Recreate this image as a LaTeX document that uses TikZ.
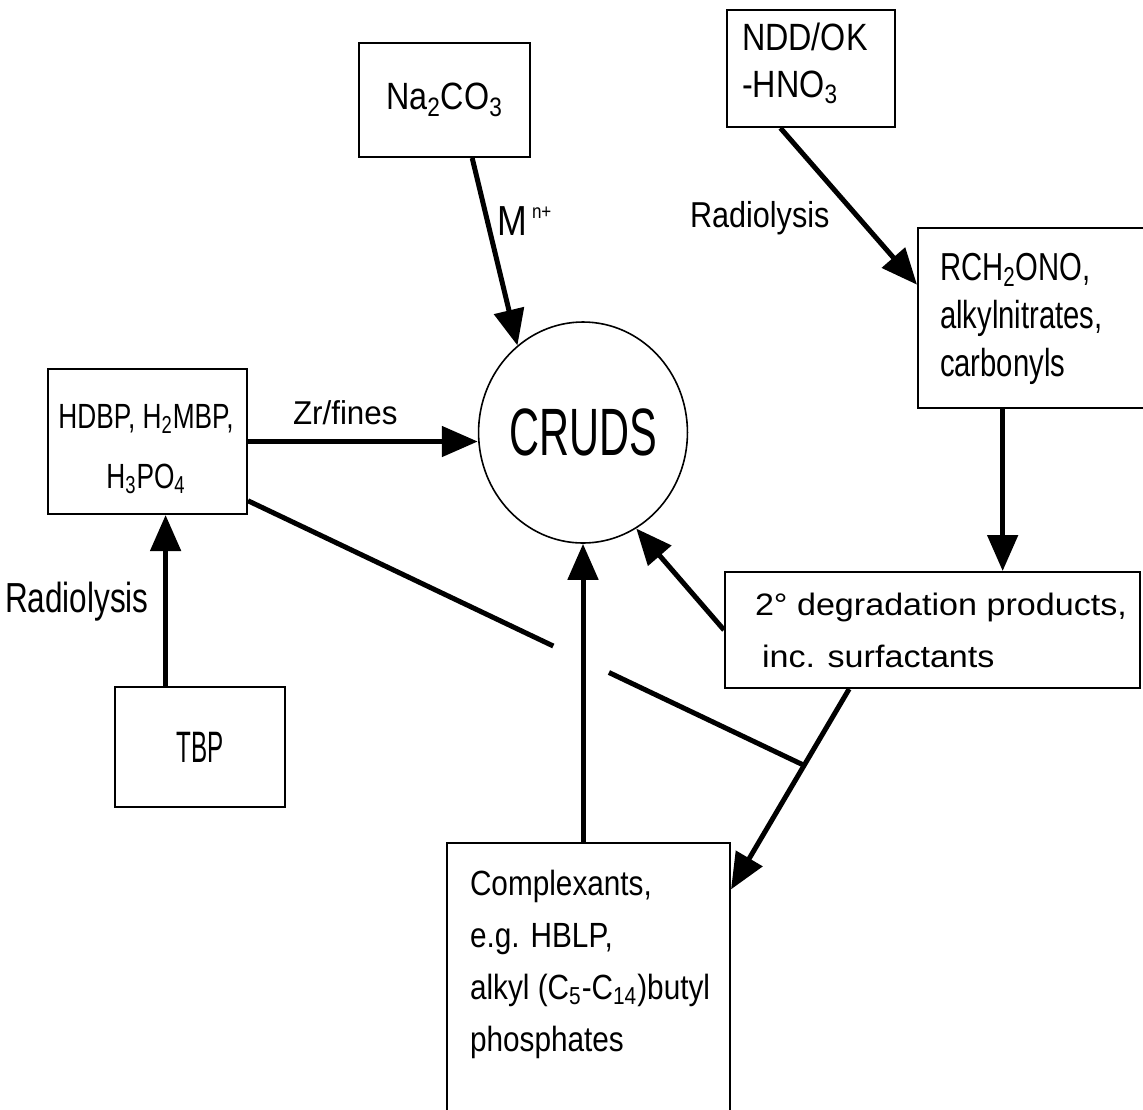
\documentclass[tikz,border=0pt]{standalone}
\usepackage{fontspec}
\setmainfont{Liberation Sans}
\newfontfamily\fA[FakeStretch=0.62]{Liberation Sans}
\newfontfamily\fT[FakeStretch=0.55]{Liberation Sans}
\newfontfamily\fB[FakeStretch=0.75]{Liberation Sans}
\newfontfamily\fC[FakeStretch=0.85]{Liberation Sans}
\newfontfamily\fD[FakeStretch=0.95]{Liberation Sans}
\newfontfamily\fE[FakeStretch=1.1]{Liberation Sans}
\usetikzlibrary{arrows.meta,shapes.geometric,calc}
\tikzset{
  boxnode/.style={draw, line width=1pt, rectangle, inner sep=0pt},
  arr/.style={line width=2.5pt, -{Triangle[length=18pt,width=15pt]}},
  plainline/.style={line width=2.5pt},
  txt/.style={inner sep=0pt, outer sep=0pt}
}
\begin{document}
\begin{tikzpicture}[x=0.5pt,y=-0.5pt]
\useasboundingbox (0,0) rectangle (1143,1109);
\clip (0,0) rectangle (1143,1109);
% boxes
\node[boxnode, minimum width=85.5pt, minimum height=57pt, font=\fC\fontsize{19}{23}\selectfont] (na) at (444.5,100) {Na\textsubscript{2}CO\textsubscript{3}};
\node[boxnode, minimum width=84pt, minimum height=58.5pt] (ndd) at (811,68.5) {};
\node[boxnode, minimum width=121pt, minimum height=90pt] (rch) at (1039,318) {};
\node[boxnode, minimum width=207.5pt, minimum height=58pt] (deg) at (932.5,630) {};
\node[boxnode, minimum width=99.5pt, minimum height=72.5pt] (hdbp) at (147.5,441.5) {};
\node[boxnode, minimum width=85pt, minimum height=60pt, font=\fT\fontsize{22}{26}\selectfont] (tbp) at (200,747) {TBP};
\node[boxnode, minimum width=141.5pt, minimum height=143.5pt] (comp) at (588.5,986.5) {};
\node[draw, line width=0.8pt, ellipse, inner sep=0pt, minimum width=95pt, minimum height=110.5pt, font=\fA\fontsize{33.5}{40}\selectfont] (cruds) at (583,432.5) {CRUDS};

% box texts (anchor base = baseline of the last line)
\node[txt, anchor=base west, align=left, font=\fC\fontsize{19}{23.5}\selectfont] (nddtxt) at (742,97) {NDD/OK\\-HNO\textsubscript{3}};
\node[txt, anchor=base west, align=left, font=\fB\fontsize{19.5}{24}\selectfont] (rchtxt) at (940,376) {RCH\textsubscript{2}ONO,\\alkylnitrates,\\carbonyls};
\node[txt, anchor=base, align=center, font=\fB\fontsize{17.5}{30}\selectfont] (hdbptxt) at (146,488) {HDBP, H\textsubscript{2}MBP,\\H\textsubscript{3}PO\textsubscript{4}};
\node[txt, anchor=base west, align=left, font=\fE\fontsize{15.5}{26}\selectfont] (degtxt) at (755,667) {2° degradation products,\\\hspace{3.5pt}inc. surfactants};
\node[txt, anchor=base west, align=left, font=\fC\fontsize{17.5}{26}\selectfont] (comptxt) at (470,1051) {Complexants,\\e.g. HBLP,\\alkyl (C\textsubscript{5}-C\textsubscript{14})butyl\\phosphates};

% labels
\node[txt, anchor=base west, font=\fB\fontsize{21}{25}\selectfont] (radL) at (5,612) {Radiolysis};
\node[txt, anchor=base west, font=\fC\fontsize{18}{22}\selectfont] (radR) at (690,227) {Radiolysis};
\node[txt, anchor=base west, font=\fD\fontsize{16.5}{20}\selectfont] (zr) at (293,424) {Zr/fines};
\node[txt, anchor=base west, font=\fC\fontsize{21}{25}\selectfont] (mlab) at (497,235) {M};
\node[txt, anchor=base west, font=\fC\fontsize{10}{12}\selectfont] (nlab) at (532,218) {n+};

% connectors
\draw[arr] ($(na.south west)!0.66!(na.south east)$) -- (cruds.127);
\draw[arr] ($(ndd.south west)!0.32!(ndd.south east)$) -- ($(rch.north west)!0.317!(rch.south west)$);
\coordinate (rchout) at ($(rch.south west)!0.351!(rch.south east)$);
\draw[arr] (rchout) -- (rchout |- deg.north);
\draw[arr] (deg.west) -- (cruds.-61);
\coordinate (degout) at ($(deg.south west)!0.30!(deg.south east)$);
\coordinate (compin) at ($(comp.north east)!0.164!(comp.south east)$);
\draw[arr] (degout) -- (compin);
\coordinate (jn) at ($(degout)!0.381!(compin)$);
\coordinate (hout) at ($(hdbp.north east)!0.903!(hdbp.south east)$);
\draw[plainline] (hout) -- ($(hout)!0.549!(jn)$);
\draw[plainline] ($(hout)!0.649!(jn)$) -- (jn);
\draw[arr] (cruds.south |- comp.north) -- (cruds.south);
\draw[arr] (hdbp.east) -- (hdbp.east -| cruds.west);
\coordinate (tbpout) at ($(tbp.north west)!0.3!(tbp.north east)$);
\draw[arr] (tbpout) -- (tbpout |- hdbp.south);
\end{tikzpicture}
\end{document}
